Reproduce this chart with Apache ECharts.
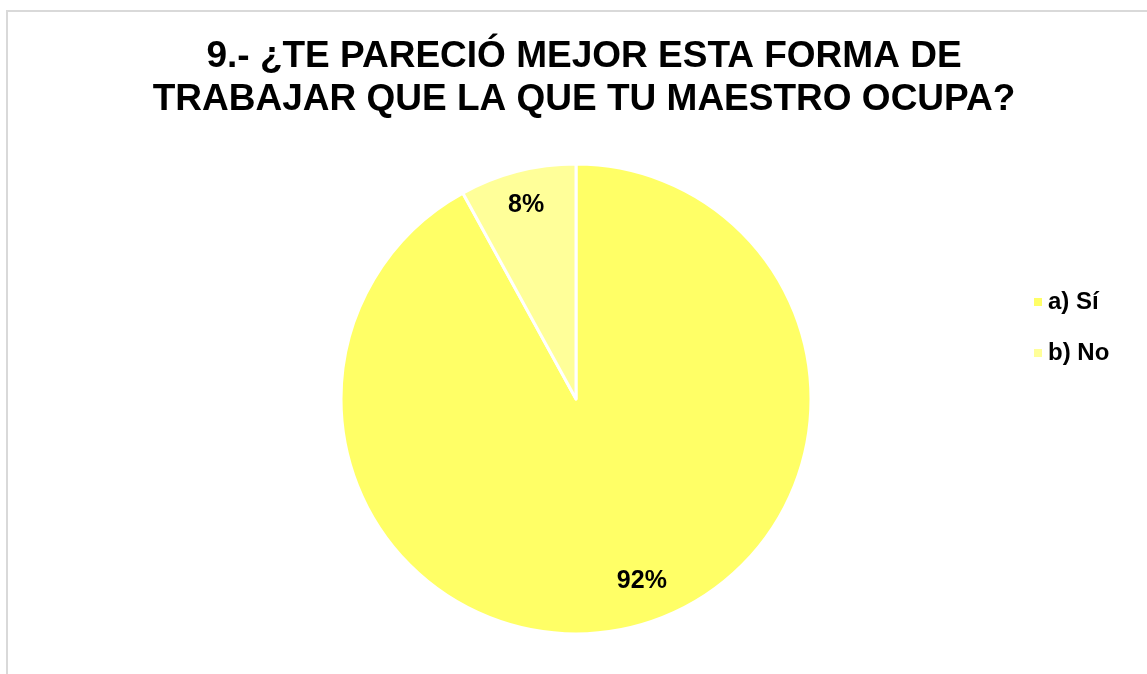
<!DOCTYPE html>
<html>
<head>
<meta charset="utf-8">
<script src="https://cdn.jsdelivr.net/npm/echarts@6/dist/echarts.min.js"></script>
<style>
  html, body { margin: 0; padding: 0; background: #fff; overflow: hidden; }
  #frame { position: absolute; left: 6px; top: 10px; width: 1160px; height: 700px; border: 2px solid #d9d9d9; box-sizing: border-box; }
  #chart { position: absolute; left: 0; top: 0; width: 1147px; height: 674px; }
</style>
</head>
<body>
<div id="frame"></div>
<div id="chart"></div>
<script>
// datos de la pregunta 9
const titulo = '9.- ¿TE PARECIÓ MEJOR ESTA FORMA DE\nTRABAJAR QUE LA QUE TU MAESTRO OCUPA?'
const categorias = ['a) Sí', 'b) No']
const porcentajes = [92, 8]
const colores = ['#ffff66', '#ffff99']

const datos = categorias.map((name, i) => ({ name, value: porcentajes[i], itemStyle: { color: colores[i] } }))

const chart = echarts.init(document.getElementById('chart'), null, { renderer: 'canvas' })

const fuente = 'Liberation Sans, Arial, sans-serif'

const option = {
    backgroundColor: 'transparent',
    animation: false,
    textStyle: { fontFamily: fuente },
    title: {
        text: titulo,
        left: 579,
        textAlign: 'center',
        top: 30,
        textStyle: {
            fontSize: 37,
            fontWeight: 'bold',
            color: '#000',
            lineHeight: 43,
            fontFamily: fuente
        }
    },
    legend: {
        orient: 'vertical',
        left: 1027,
        top: 285,
        itemWidth: 10,
        itemHeight: 10,
        itemGap: 27,
        icon: 'rect',
        data: categorias,
        textStyle: {
            fontSize: 24,
            fontWeight: 'bold',
            color: '#000',
            fontFamily: fuente
        }
    },
    series: [
        {
            type: 'pie',
            center: [576, 399],
            radius: 235,
            startAngle: 90,
            clockwise: true,
            silent: true,
            data: datos,
            itemStyle: { borderColor: '#fff', borderWidth: 3 },
            label: { show: false },
            labelLine: { show: false }
        },
        // serie transparente solo para colocar las etiquetas más hacia el borde
        {
            type: 'pie',
            center: [576, 399],
            radius: [160, 235],
            startAngle: 90,
            clockwise: true,
            silent: true,
            data: datos.map(d => ({ name: d.name, value: d.value })),
            itemStyle: { color: 'rgba(0,0,0,0)', borderWidth: 0 },
            label: {
                show: true,
                position: 'inside',
                formatter: '{c}%',
                fontSize: 25,
                fontWeight: 'bold',
                color: '#000',
                fontFamily: fuente
            },
            labelLine: { show: false },
            labelLayout: function (params) {
                if (params.dataIndex === 0) return { dx: 16, dy: -12 }
            }
        }
    ]
}

chart.setOption(option)
</script>
</body>
</html>
